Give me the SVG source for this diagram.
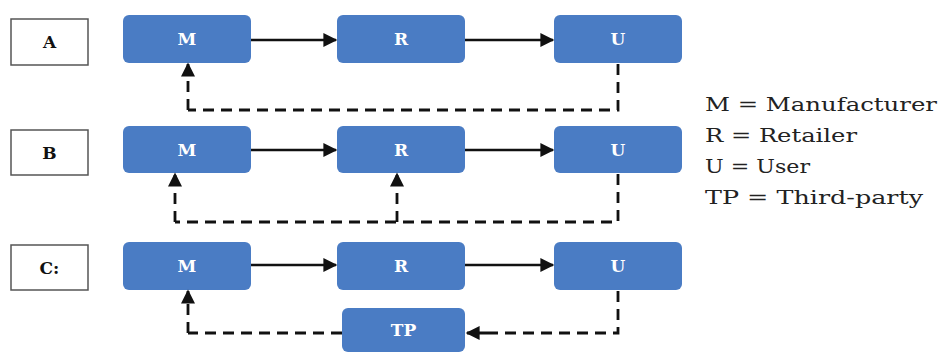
<svg xmlns="http://www.w3.org/2000/svg" width="940" height="353" viewBox="0 0 940 353">
<style>
.node rect{fill:#4a7cc4;}
.node text{fill:#fff;font-family:"DejaVu Serif","Liberation Serif",serif;font-weight:bold;font-size:17px;text-anchor:middle;dominant-baseline:central;}
.lbl rect{fill:#fff;stroke:#555;stroke-width:1.5;}
.lbl text{fill:#111;font-family:"DejaVu Serif","Liberation Serif",serif;font-weight:bold;font-size:17px;text-anchor:middle;dominant-baseline:central;}
.solid{stroke:#111;stroke-width:2.5;fill:none;marker-end:url(#ah);}
.dash{stroke:#111;stroke-width:2.8;fill:none;stroke-dasharray:11 7;}
.dasha{stroke:#111;stroke-width:2.8;fill:none;stroke-dasharray:11 7;marker-end:url(#ah);}
.legend text{fill:#222;font-family:"DejaVu Serif","Liberation Serif",serif;font-size:19px;dominant-baseline:central;}
</style>
<defs>
<marker id="ah" viewBox="0 0 10 10" refX="9" refY="5" markerUnits="userSpaceOnUse" markerWidth="16" markerHeight="14" orient="auto">
<path d="M0,0 L10,5 L0,10 z" fill="#111"/>
</marker>
</defs>
<rect width="940" height="353" fill="#fff"/>
<g id="labelA" class="lbl"><rect x="11" y="19" width="77" height="46"/><text x="49.5" y="42">A</text></g>
<g id="labelB" class="lbl"><rect x="11" y="130" width="77" height="45"/><text x="49.5" y="152.5">B</text></g>
<g id="labelC" class="lbl"><rect x="11" y="245" width="77" height="45"/><text x="49.5" y="267.5">C:</text></g>
<g id="A_M" class="node"><rect x="123" y="15" width="128" height="48" rx="6"/><text x="187" y="39">M</text></g>
<g id="A_R" class="node"><rect x="337" y="15" width="128" height="48" rx="6"/><text x="401" y="39">R</text></g>
<g id="A_U" class="node"><rect x="554" y="15" width="128" height="48" rx="6"/><text x="618" y="39">U</text></g>
<g id="B_M" class="node"><rect x="123" y="126" width="128" height="47" rx="6"/><text x="187" y="149.5">M</text></g>
<g id="B_R" class="node"><rect x="337" y="126" width="128" height="47" rx="6"/><text x="401" y="149.5">R</text></g>
<g id="B_U" class="node"><rect x="554" y="126" width="128" height="47" rx="6"/><text x="618" y="149.5">U</text></g>
<g id="C_M" class="node"><rect x="123" y="242" width="128" height="48" rx="6"/><text x="187" y="266">M</text></g>
<g id="C_R" class="node"><rect x="337" y="242" width="128" height="48" rx="6"/><text x="401" y="266">R</text></g>
<g id="C_U" class="node"><rect x="554" y="242" width="128" height="48" rx="6"/><text x="618" y="266">U</text></g>
<g id="C_TP" class="node"><rect x="342" y="308" width="123" height="44" rx="6"/><text x="403.5" y="330">TP</text></g>
<g id="connectors">
<line class="solid" x1="251" y1="40" x2="336" y2="40"/>
<line class="solid" x1="465" y1="40" x2="553" y2="40"/>
<line class="solid" x1="251" y1="150" x2="336" y2="150"/>
<line class="solid" x1="465" y1="150" x2="553" y2="150"/>
<line class="solid" x1="251" y1="265" x2="336" y2="265"/>
<line class="solid" x1="465" y1="265" x2="553" y2="265"/>
<path class="dash" d="M618,64 V110 H188"/>
<path class="dasha" d="M188,110 V64"/>
<path class="dash" d="M618,174 V222 H175"/>
<path class="dasha" d="M175,222 V174"/>
<path class="dasha" d="M397,222 V174"/>
<path class="dash" d="M618,291 V333 H490"/>
<path class="dasha" d="M490,333 H467"/>
<path class="dash" d="M342,333 H188"/>
<path class="dasha" d="M188,333 V291"/>
</g>
<g id="legend" class="legend">
<text x="705" y="104" textLength="232" lengthAdjust="spacingAndGlyphs">M = Manufacturer</text>
<text x="705" y="135" textLength="152" lengthAdjust="spacingAndGlyphs">R = Retailer</text>
<text x="705" y="166" textLength="105" lengthAdjust="spacingAndGlyphs">U = User</text>
<text x="705" y="197" textLength="218" lengthAdjust="spacingAndGlyphs">TP = Third-party</text>
</g>
</svg>
